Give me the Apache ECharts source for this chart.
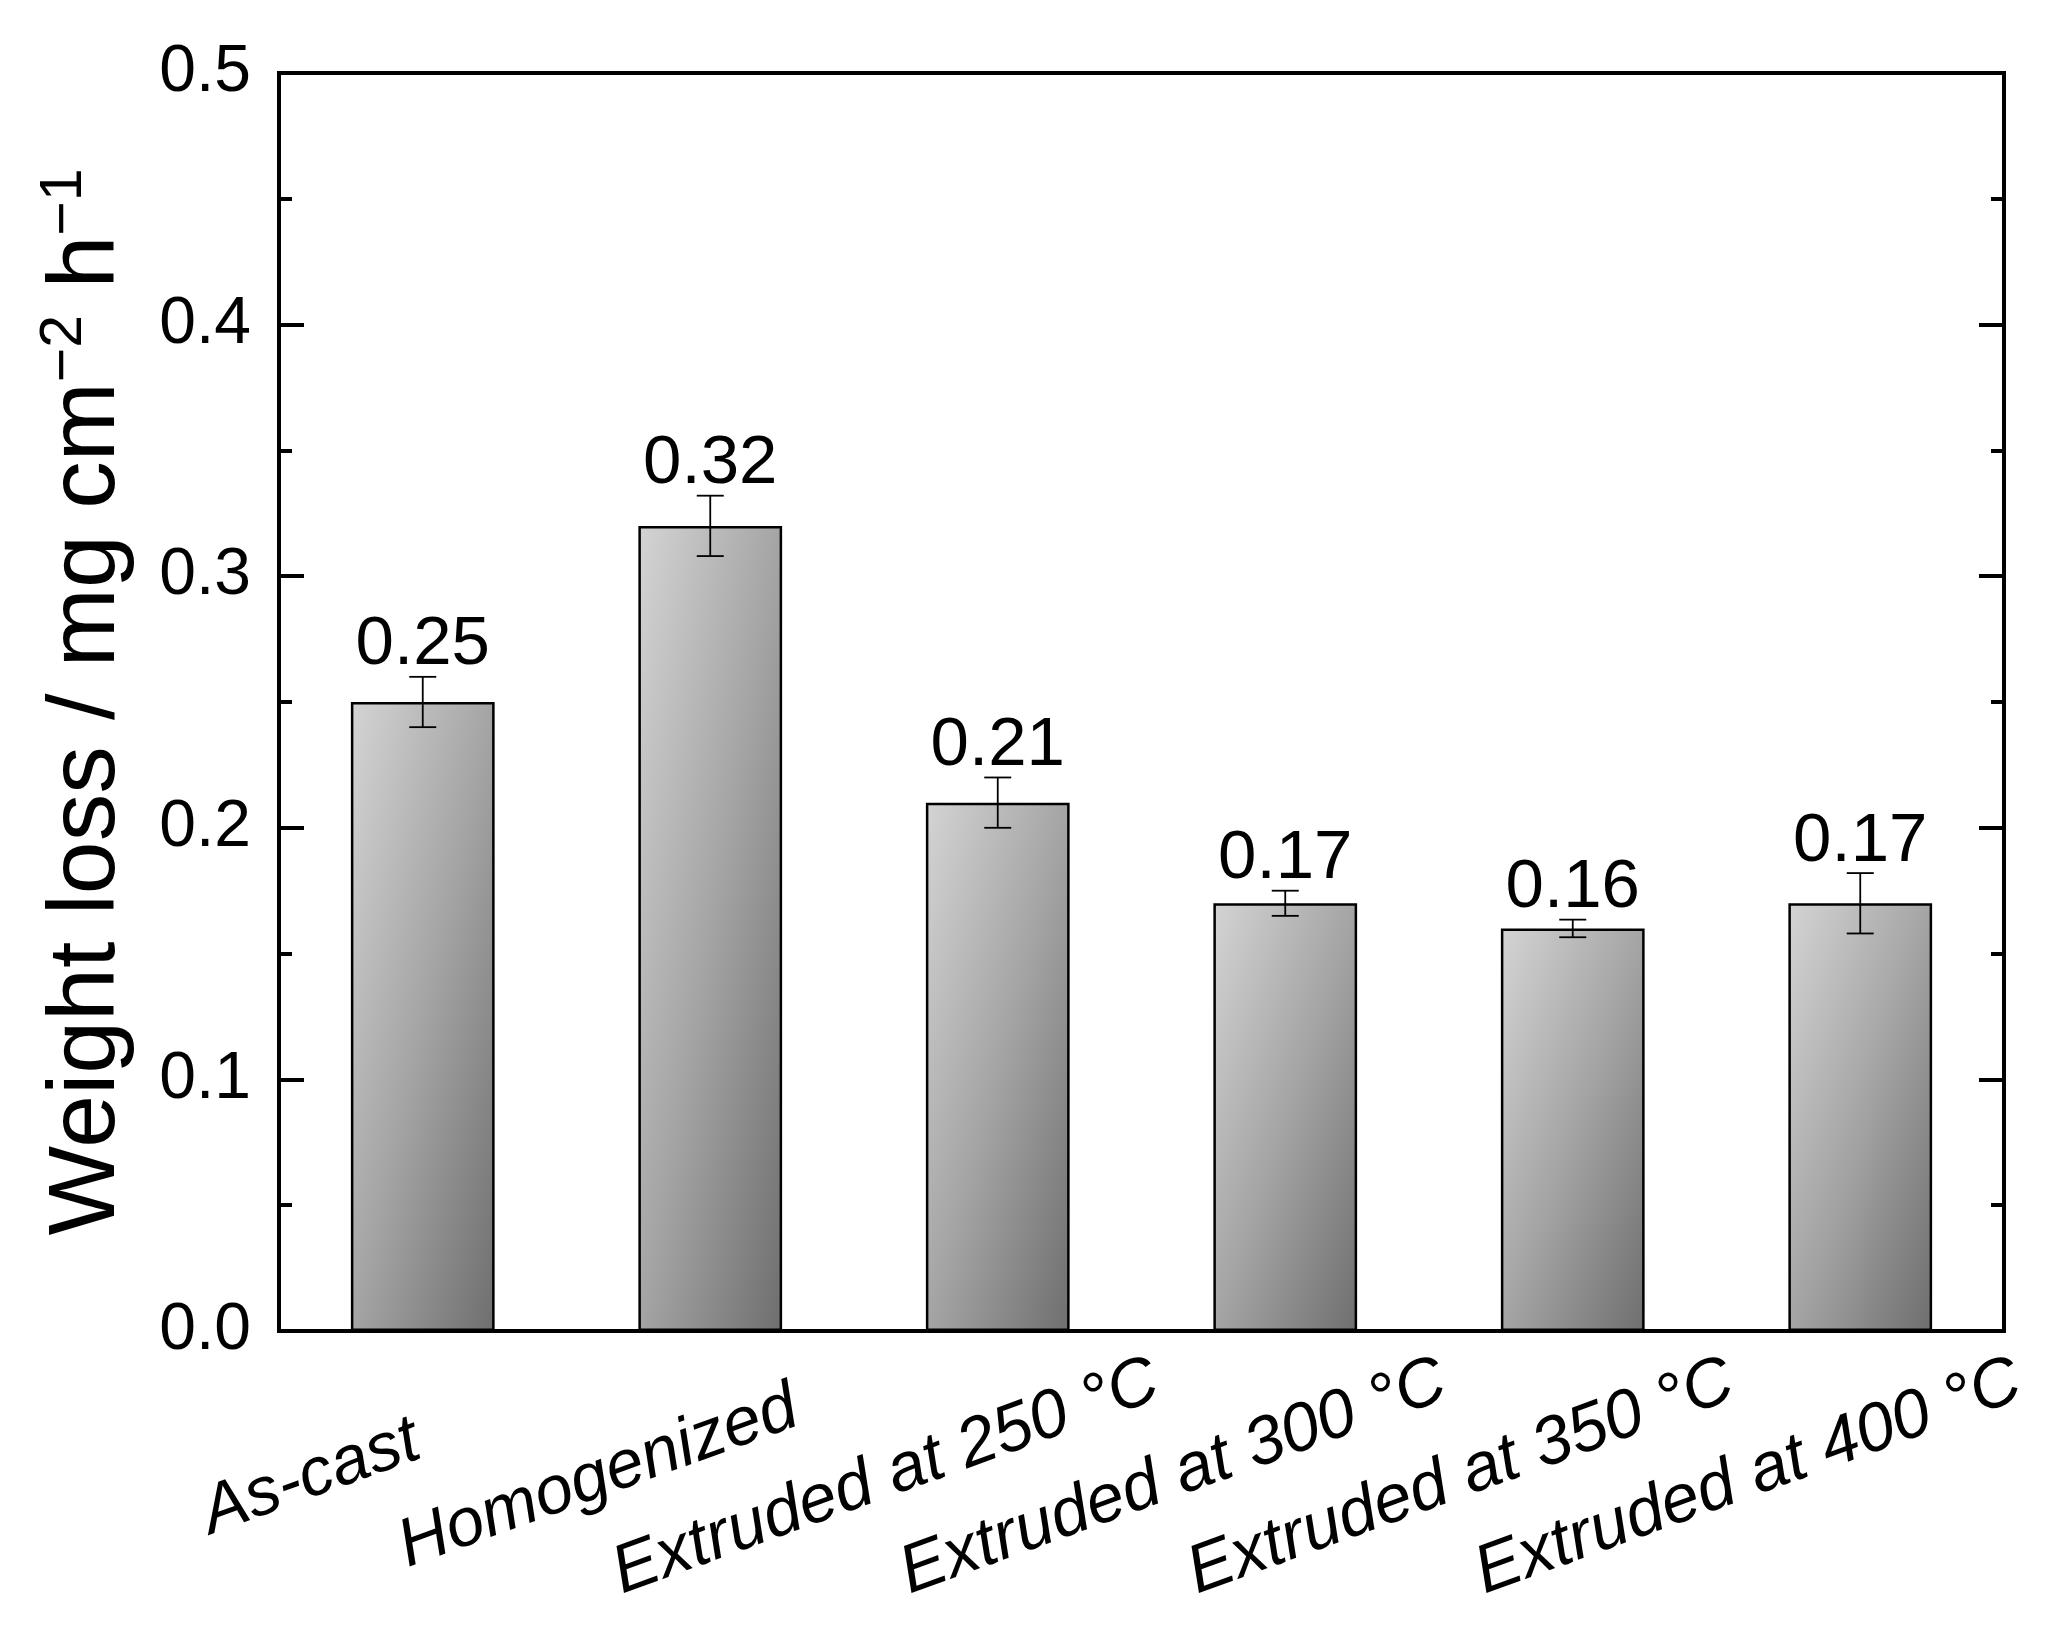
<!DOCTYPE html>
<html><head><meta charset="utf-8">
<script src="https://cdn.jsdelivr.net/npm/echarts@6/dist/echarts.min.js"></script>
<style>html,body{margin:0;padding:0;background:#fff}#c{width:2046px;height:1629px}</style>
</head><body><div id="c"></div>
<script>
const categories = ['As-cast', 'Homogenized', 'Extruded at 250 °C', 'Extruded at 300 °C', 'Extruded at 350 °C', 'Extruded at 400 °C'];
const weightLoss = [0.25, 0.32, 0.21, 0.17, 0.16, 0.17];
const errors = [0.010, 0.012, 0.010, 0.005, 0.0035, 0.012];
const valueLabels = ['0.25', '0.32', '0.21', '0.17', '0.16', '0.17'];
const yMin = 0, yMax = 0.5, yStep = 0.1;

const FONT = "'Liberation Sans', Arial, sans-serif";
const PLOT_H = 1258, BAR_W = 143;

const chart = echarts.init(document.getElementById('c'), null, {renderer: 'canvas'});

function barGradient(params) {
  const h = Math.max(1, (params.value - yMin) / (yMax - yMin) * PLOT_H);
  const w = BAR_W;
  const d = h * h + w * w;
  return new echarts.graphic.LinearGradient(0, 0, 2 * h * h / d, 2 * w * w / d, [
    {offset: 0, color: '#d4d4d4'},
    {offset: 0.5, color: '#a4a4a4'},
    {offset: 1, color: '#6e6e6e'}
  ]);
}

const yAxisCommon = {
  type: 'value', min: yMin, max: yMax, interval: yStep,
  axisLine: {show: true, lineStyle: {color: '#000', width: 4}},
  axisTick: {show: true, inside: true, length: 25, lineStyle: {color: '#000', width: 4}},
  minorTick: {show: true, splitNumber: 2, length: 13, lineStyle: {color: '#000', width: 4}},
  splitLine: {show: false}
};

chart.setOption({
  animation: false,
  backgroundColor: '#fff',
  textStyle: {fontFamily: FONT},
  grid: {left: 279, right: 42, top: 73, bottom: 298, show: true, borderColor: '#000', borderWidth: 4, backgroundColor: 'transparent'},
  xAxis: [{
    type: 'category', data: categories, position: 'bottom',
    axisLine: {lineStyle: {color: '#000', width: 4}},
    axisTick: {alignWithLabel: true, length: 26, lineStyle: {color: '#000', width: 2.5}},
    axisLabel: {
      interval: 0, rotate: 20, fontSize: 68, fontStyle: 'italic', fontFamily: FONT, color: '#000',
      align: 'center', verticalAlign: 'middle', margin: 106, padding: [0, 238, 0, 0]
    }
  }],
  yAxis: [
    Object.assign({}, yAxisCommon, {
      position: 'left',
      axisLabel: {fontSize: 66, color: '#000', fontFamily: FONT, margin: 28, formatter: v => v.toFixed(1)},
      name: '{a|Weight loss / mg cm}{s|−2}{a| h}{s|−1}',
      nameLocation: 'middle', nameGap: 144, nameRotate: 90,
      nameTextStyle: {
        color: '#000', fontFamily: FONT, fontSize: 95,
        rich: {
          a: {fontSize: 95, lineHeight: 100, fontFamily: FONT, color: '#000', verticalAlign: 'bottom'},
          s: {fontSize: 59, lineHeight: 37, fontFamily: FONT, color: '#000', verticalAlign: 'top'}
        }
      }
    }),
    Object.assign({}, yAxisCommon, {
      position: 'right',
      axisLabel: {show: false}
    })
  ],
  series: [
    {
      type: 'bar', data: weightLoss, barWidth: '50%', yAxisIndex: 0,
      itemStyle: {color: barGradient, borderColor: '#000', borderWidth: 2.5}
    },
    {
      type: 'custom', yAxisIndex: 0, z: 5,
      data: weightLoss.map((v, i) => [i, v, errors[i]]),
      renderItem: function (params, api) {
        const i = api.value(0), v = api.value(1), e = api.value(2);
        const top = api.coord([i, v + e]);
        const bot = api.coord([i, v - e]);
        const cap = 13.5;
        const ls = {stroke: '#000', lineWidth: 1.8};
        return {
          type: 'group',
          children: [
            {type: 'line', shape: {x1: top[0], y1: top[1], x2: bot[0], y2: bot[1]}, style: ls},
            {type: 'line', shape: {x1: top[0] - cap, y1: top[1], x2: top[0] + cap, y2: top[1]}, style: ls},
            {type: 'line', shape: {x1: bot[0] - cap, y1: bot[1], x2: bot[0] + cap, y2: bot[1]}, style: ls},
            {type: 'text', x: top[0], y: top[1] + 3, style: {
              text: valueLabels[params.dataIndex], fontSize: 69, fontFamily: FONT, fill: '#000',
              align: 'center', verticalAlign: 'bottom'
            }}
          ]
        };
      }
    }
  ]
});
</script>
</body></html>
